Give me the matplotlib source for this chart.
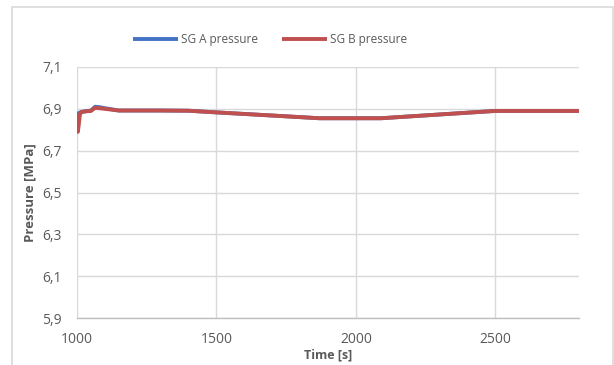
import matplotlib
matplotlib.use("Agg")
import matplotlib.pyplot as plt
from matplotlib.patches import Rectangle

time_a = [1000, 1003, 1008, 1015, 1030, 1050, 1065, 1080, 1100, 1150, 1300, 1400, 1500, 1700, 1870, 2090, 2300, 2500, 2800]
pres_a = [6.885, 6.875, 6.88, 6.885, 6.888, 6.892, 6.910, 6.908, 6.903, 6.892, 6.892, 6.891, 6.883, 6.868, 6.855, 6.855, 6.873, 6.89, 6.89]
time_b = [1000, 1003, 1006, 1010, 1015, 1030, 1050, 1065, 1080, 1100, 1150, 1300, 1400, 1500, 1700, 1870, 2090, 2300, 2500, 2800]
pres_b = [6.88, 6.79, 6.82, 6.87, 6.885, 6.888, 6.89, 6.905, 6.903, 6.9, 6.892, 6.892, 6.891, 6.883, 6.868, 6.855, 6.855, 6.873, 6.89, 6.89]
yticks = [5.9, 6.1, 6.3, 6.5, 6.7, 6.9, 7.1]
xticks = [1000, 1500, 2000, 2500]

plt.rcParams['font.family'] = ['Open Sans', 'DejaVu Sans']
fig = plt.figure(figsize=(6.14, 3.65), dpi=100)
fig.patches.append(Rectangle((12/614, -0.05), (613-12)/614, 1.05 - 7/365, transform=fig.transFigure,
                             fill=False, edgecolor='#D9D9D9', linewidth=1.2))
ax = fig.add_axes([77/614, 1-318/365, (579-77)/614, (318-67)/365])
ax.plot(time_a, pres_a, color='#4472C4', lw=2.8, label='SG A pressure', solid_capstyle='butt')
ax.plot(time_b, pres_b, color='#C0504D', lw=2.8, label='SG B pressure', solid_capstyle='butt')
ax.set_xlim(1000, 2800)
ax.set_ylim(5.9, 7.1)
ax.set_xticks(xticks)
ax.set_yticks(yticks)
ax.set_yticklabels([f"{v:.1f}".replace('.', ',') for v in yticks])
ax.set_xticklabels([str(v) for v in xticks])
ax.grid(True, color='#D9D9D9', linewidth=1.0)
ax.set_axisbelow(True)
for s in ['top', 'right', 'left']:
    ax.spines[s].set_visible(False)
ax.spines['bottom'].set_color('#BFBFBF')
ax.spines['bottom'].set_linewidth(1.0)
ax.tick_params(length=0, labelsize=10, colors='#595959')
ax.tick_params(axis='x', pad=10)
ax.tick_params(axis='y', pad=11)
ax.set_xlabel('Time [s]', fontsize=9, fontweight='bold', color='#595959', labelpad=1)
ax.set_ylabel('Pressure [MPa]', fontsize=9.5, fontweight='bold', color='#595959', labelpad=4)
leg = fig.legend(loc='center', bbox_to_anchor=(270/614, 1-40/365), ncol=2, frameon=False,
                 fontsize=8.5, handlelength=3.8, columnspacing=2.0, handletextpad=0.3)
for t in leg.get_texts():
    t.set_color('#595959')
fig.savefig('out.png', dpi=100)
